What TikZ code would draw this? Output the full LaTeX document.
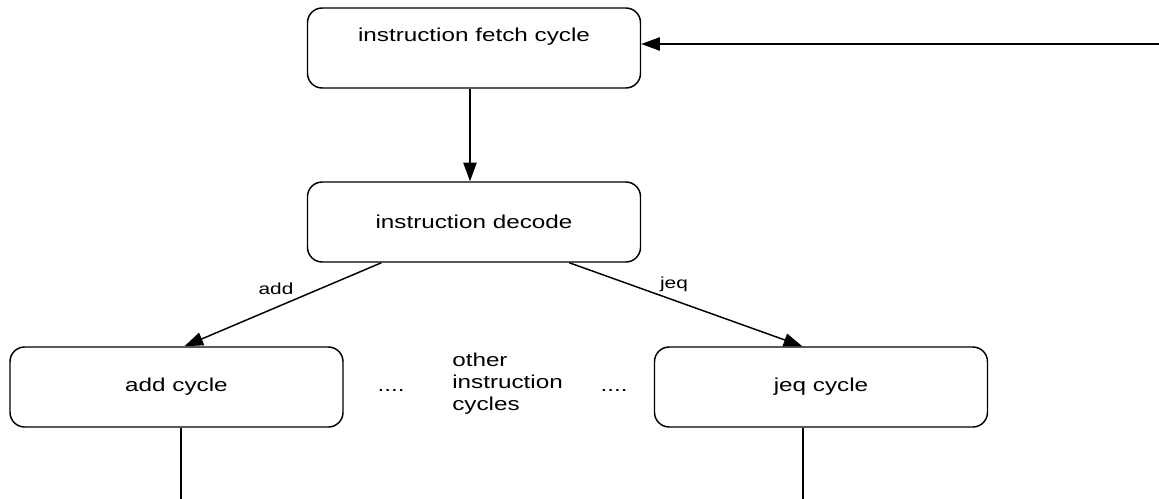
\documentclass[tikz,border=0pt]{standalone}
\usepackage{fontspec}
\setmainfont[FakeStretch=1.3]{Liberation Sans}
\usetikzlibrary{arrows.meta}

\tikzset{
  cyclebox/.style={draw, line width=1.1pt, rounded corners=11pt,
    minimum width=333*0.75pt, minimum height=80*0.75pt, inner sep=0pt,
    font=\fontsize{14pt}{16.5pt}\selectfont},
  boxtext/.style={font=\fontsize{14pt}{16.5pt}\selectfont, inner sep=0pt},
  edgelabel/.style={font=\fontsize{12pt}{14pt}\selectfont, inner sep=0pt},
  flow/.style={line width=1.1pt, -{Triangle[length=14pt,width=10pt]}},
  plain/.style={line width=1.1pt}
}

\begin{document}
\begin{tikzpicture}[x=0.75pt, y=-0.75pt]
  \useasboundingbox (0,0) rectangle (1159,499);

  % cycle states
  \node[cyclebox] (fetch)  at (474,48)  {};
  \node[boxtext, anchor=base] (fetchtext) at (474,42) {instruction fetch cycle};
  \node[cyclebox] (decode) at (474,222) {instruction decode};
  \node[cyclebox] (add)    at (176.5,387) {add cycle};
  \node[cyclebox] (jeq)    at (821,387) {jeq cycle};

  % placeholder for the remaining instruction cycles
  \node[boxtext, anchor=base] (dotsl) at (391,391) {....};
  \node[boxtext, anchor=base] (dotsr) at (614,391) {....};
  \node[boxtext, anchor=north west, align=left] (others) at (452,353)
    {other\\instruction\\cycles};

  % return path into the fetch cycle
  \coordinate (back) at (1159,44);
  \draw[flow] (back) -- (fetch.east |- back);

  % fetch -> decode
  \draw[flow] ([xshift=-3pt]fetch.south) -- ([xshift=-3pt]decode.north);

  % decode -> dispatch by opcode
  \draw[flow] ([xshift=56pt]decode.south west) -- ([xshift=6pt]add.north);
  \draw[flow] ([xshift=-54pt]decode.south east) -- ([xshift=-14pt]jeq.north);
  \node[edgelabel, anchor=base] (addlbl) at (276,294) {add};
  \node[edgelabel, anchor=base] (jeqlbl) at (674,288) {jeq};

  % exits of the execute cycles
  \coordinate (addout) at (181,499);
  \coordinate (jeqout) at (803,499);
  \draw[plain] (add.south -| addout) -- (addout);
  \draw[plain] (jeq.south -| jeqout) -- (jeqout);
\end{tikzpicture}
\end{document}
